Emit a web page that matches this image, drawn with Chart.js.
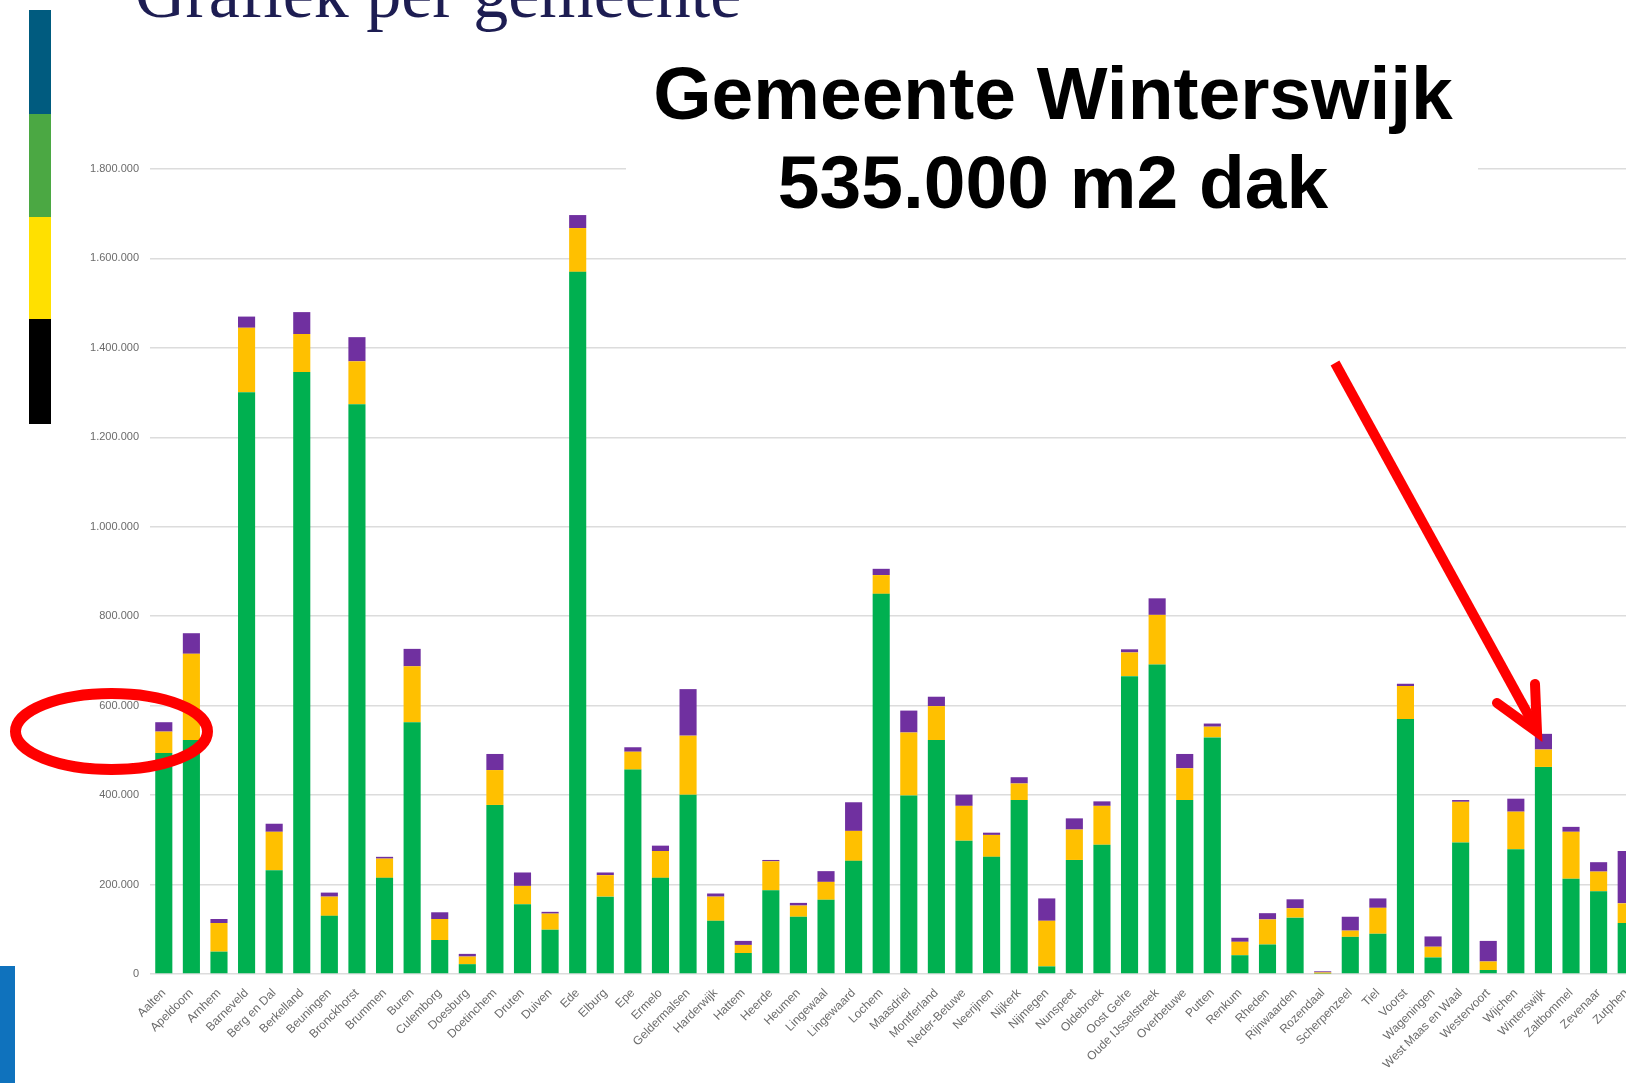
<!DOCTYPE html>
<html>
<head>
<meta charset="utf-8">
<script src="https://cdn.jsdelivr.net/npm/chart.js@4.4.1/dist/chart.umd.min.js"></script>
<style>
html,body{margin:0;padding:0;width:1626px;height:1083px;overflow:hidden;background:#ffffff;}
#wrap{position:absolute;left:0;top:0;width:1660px;height:1083px;}
#overlay{position:absolute;left:0;top:0;width:1626px;height:1083px;pointer-events:none;}
</style>
</head>
<body>
<div id="wrap"><canvas id="c" width="1660" height="1083"></canvas></div>
<svg id="overlay" width="1626" height="1083" viewBox="0 0 1626 1083" xmlns="http://www.w3.org/2000/svg">
  <!-- slide decorations -->
  <rect x="29" y="10" width="22" height="104" fill="#005B7F"/>
  <rect x="29" y="114" width="22" height="103" fill="#4BA843"/>
  <rect x="29" y="217" width="22" height="102" fill="#FFE000"/>
  <rect x="29" y="319" width="22" height="105" fill="#000000"/>
  <rect x="0" y="966" width="15" height="117" fill="#0F72BD"/>
  <!-- white box behind annotation -->
  <rect x="626" y="40" width="852" height="190" fill="#ffffff"/>
  <text x="135" y="17" font-family="Liberation Serif, Times New Roman, serif" font-size="70" fill="#1d1d52">Grafiek per gemeente</text>
  <text x="1053" y="119" text-anchor="middle" font-family="Liberation Sans, Arial, sans-serif" font-weight="bold" font-size="75" fill="#000">Gemeente Winterswijk</text>
  <text x="1053" y="208" text-anchor="middle" font-family="Liberation Sans, Arial, sans-serif" font-weight="bold" font-size="75" fill="#000">535.000 m2 dak</text>
  <!-- red ellipse -->
  <ellipse cx="111.5" cy="731.5" rx="96" ry="38" fill="none" stroke="#FF0000" stroke-width="11"/>
  <!-- red arrow -->
  <path d="M1335 363 L1535 727" stroke="#FF0000" stroke-width="10" fill="none" stroke-linecap="butt"/>
  <path d="M1535 684 L1537 732 L1497 703" stroke="#FF0000" stroke-width="10" fill="none" stroke-linecap="round" stroke-linejoin="miter"/>
</svg>
<script>
const gemeenten = ["Aalten","Apeldoorn","Arnhem","Barneveld","Berg en Dal","Berkelland","Beuningen","Bronckhorst","Brummen","Buren","Culemborg","Doesburg","Doetinchem","Druten","Duiven","Ede","Elburg","Epe","Ermelo","Geldermalsen","Harderwijk","Hattem","Heerde","Heumen","Lingewaal","Lingewaard","Lochem","Maasdriel","Montferland","Neder-Betuwe","Neerijnen","Nijkerk","Nijmegen","Nunspeet","Oldebroek","Oost Gelre","Oude IJsselstreek","Overbetuwe","Putten","Renkum","Rheden","Rijnwaarden","Rozendaal","Scherpenzeel","Tiel","Voorst","Wageningen","West Maas en Waal","Westervoort","Wijchen","Winterswijk","Zaltbommel","Zevenaar","Zutphen"];

const groen = [494000,523000,50000,1301000,232000,1346000,130000,1274000,215000,563000,76000,22000,378000,156000,99000,1570000,173000,457000,215000,401000,119000,47000,187000,128000,166000,253000,850000,399000,523000,298000,262000,389000,17000,255000,289000,666000,692000,389000,529000,42000,66000,126000,1000,83000,90000,570000,37000,294000,9000,279000,463000,213000,185000,114000];

const geel = [48000,193000,64000,144000,86000,85000,43000,96000,43000,125000,47000,17000,78000,41000,36000,98000,48000,40000,60000,132000,54000,18000,65000,25000,40000,67000,42000,141000,76000,78000,49000,37000,102000,68000,87000,53000,111000,71000,24000,30000,56000,21000,2500,14000,58000,74000,24000,91000,19000,84000,39000,105000,44000,44000];

const paars = [21000,46000,9000,25000,18000,49000,9000,54000,4000,39000,15000,6000,36000,30000,4000,29000,6000,10000,12000,104000,7000,9000,3000,6000,24000,64000,14000,49000,21000,25000,5000,14000,50000,25000,10000,7000,37000,32000,7000,9000,14000,20000,2500,31000,21000,5000,23000,4000,46000,29000,35000,11000,21000,117000];

const yTicks = [0,200000,400000,600000,800000,1000000,1200000,1400000,1600000,1800000];

function fmt(v){ return String(v).replace(/\B(?=(\d{3})+(?!\d))/g, '.'); }

new Chart(document.getElementById('c').getContext('2d'), {
  type: 'bar',
  data: {
    labels: gemeenten,
    datasets: [
      {label: 'Groen', data: groen, backgroundColor: '#00B050', barPercentage: 0.62, categoryPercentage: 1},
      {label: 'Geel', data: geel, backgroundColor: '#FFC000', barPercentage: 0.62, categoryPercentage: 1},
      {label: 'Paars', data: paars, backgroundColor: '#7030A0', barPercentage: 0.62, categoryPercentage: 1}
    ]
  },
  options: {
    responsive: false,
    animation: false,
    devicePixelRatio: 1,
    layout: {padding: {top: 169, left: 0, right: 20, bottom: 0}},
    plugins: {legend: {display: false}, tooltip: {enabled: false}},
    scales: {
      x: {
        stacked: true,
        grid: {display: false, drawTicks: false},
        border: {display: false},
        ticks: {autoSkip: false, maxRotation: 45, minRotation: 45, padding: 12, color: '#6b6b6b',
                font: {family: 'Liberation Sans', size: 12}},
        afterFit: a => { a.height = 109; }
      },
      y: {
        stacked: true,
        min: 0, max: 1800000,
        afterBuildTicks: a => { a.ticks = yTicks.map(v => ({value: v})); },
        grid: {color: '#dcdcdc', lineWidth: 1.5, drawTicks: false},
        border: {display: false},
        ticks: {padding: 11, color: '#6b6b6b', font: {family: 'Liberation Sans', size: 11},
                callback: v => fmt(v)},
        afterFit: a => { a.width = 150; }
      }
    }
  }
});
</script>
</body>
</html>
